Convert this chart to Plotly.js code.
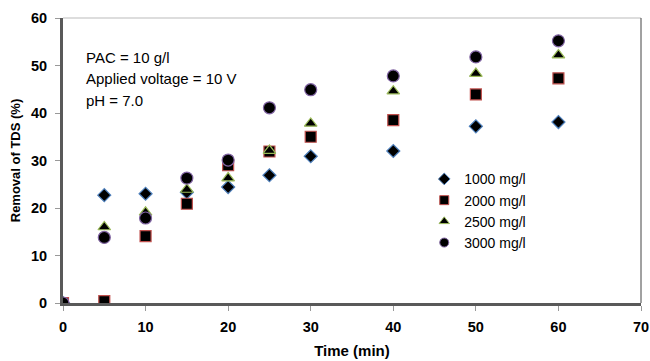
<!DOCTYPE html>
<html><head><meta charset="utf-8">
<script src="https://cdn.plot.ly/plotly-3.0.1.min.js"></script>
<style>html,body{margin:0;padding:0;background:#fff}#chart{width:650px;height:361px}</style>
</head><body><div id="chart"></div>
<script>
var time = [0, 5, 10, 15, 20, 25, 30, 40, 50, 60];
var s1000 = [0, 22.7, 23.0, 23.3, 24.4, 26.9, 30.9, 32.0, 37.2, 38.1];
var s2000 = [0, 0.4, 14.1, 20.9, 29.0, 31.9, 35.0, 38.5, 43.9, 47.3];
var s2500 = [0, 16.0, 19.1, 23.9, 26.3, 32.1, 37.8, 44.6, 48.3, 52.2];
var s3000 = [0, 13.8, 17.9, 26.3, 30.1, 41.1, 44.9, 47.8, 51.8, 55.2];
var names = ['1000 mg/l', '2000 mg/l', '2500 mg/l', '3000 mg/l'];
var notes = ['PAC = 10 g/l', 'Applied voltage = 10 V', 'pH = 7.0'];
var xTicks = [0, 10, 20, 30, 40, 50, 60, 70];
var yTicks = [0, 10, 20, 30, 40, 50, 60];

var FONT = 'Liberation Sans, Arial, sans-serif';
var series = [s1000, s2000, s2500, s3000];
var syms = ['diamond', 'square', 'triangle-up', 'circle'];
var sizes = [10, 11, 11, 12];
var legSizes = [9, 9, 9, 9];
var edges = ['#4F81BD', '#C0504D', '#9BBB59', '#8064A2'];
var data = [];
for (var i = 0; i < 4; i++) {
  data.push({x: time, y: series[i], name: names[i], type: 'scatter', mode: 'markers', showlegend: false,
    marker: {symbol: syms[i], size: sizes[i], color: '#000', line: {color: edges[i], width: 1.2}}});
}
for (var j = 0; j < 4; j++) {
  data.push({x: [null], y: [null], name: names[j], type: 'scatter', mode: 'markers', showlegend: true,
    marker: {symbol: syms[j], size: legSizes[j], color: '#000', line: {color: edges[j], width: 1}}});
}
var ann = [];
var noteY = [0.863, 0.789, 0.712];
for (var k = 0; k < notes.length; k++) {
  ann.push({xref: 'paper', yref: 'paper', x: 0.036, y: noteY[k], xanchor: 'left', yanchor: 'middle',
    showarrow: false, text: notes[k], font: {family: FONT, size: 15, color: '#000'}});
}
var layout = {
  width: 650, height: 361,
  margin: {l: 63, r: 9, t: 18, b: 58},
  paper_bgcolor: '#fff', plot_bgcolor: '#fff',
  showlegend: true,
  legend: {x: 0.625, y: 0.49, xanchor: 'left', yanchor: 'top', bgcolor: 'rgba(0,0,0,0)',
    font: {family: FONT, size: 14, color: '#000'}, itemsizing: 'trace', tracegroupgap: 0},
  xaxis: {range: [0, 70], tickvals: xTicks, showgrid: false, zeroline: false,
    showline: true, linecolor: '#595959', linewidth: 3,
    ticks: 'outside', ticklen: 5, tickcolor: '#999', tickwidth: 1, ticklabelstandoff: 4,
    tickfont: {family: FONT, size: 14.5, color: '#000', weight: 'bold'},
    title: {text: '<b>Time (min)</b>', standoff: 12, font: {family: FONT, size: 15, color: '#000'}}},
  yaxis: {range: [0, 60], tickvals: yTicks, showgrid: false, zeroline: false,
    showline: true, linecolor: '#595959', linewidth: 3,
    ticks: 'outside', ticklen: 5, tickcolor: '#999', tickwidth: 1, ticklabelstandoff: 5,
    tickfont: {family: FONT, size: 14.5, color: '#000', weight: 'bold'},
    title: {text: '<b>Removal of TDS (%)</b>', standoff: 8, font: {family: FONT, size: 13, color: '#000'}}},
  shapes: [
    {type: 'line', xref: 'paper', yref: 'paper', x0: 0, x1: 1, y0: 1, y1: 1, line: {color: '#bbb', width: 1}},
    {type: 'line', xref: 'paper', yref: 'paper', x0: 1, x1: 1, y0: 0, y1: 1, line: {color: '#444', width: 1}}
  ],
  annotations: ann
};
Plotly.newPlot('chart', data, layout, {displayModeBar: false, staticPlot: true});
</script>
</body></html>
